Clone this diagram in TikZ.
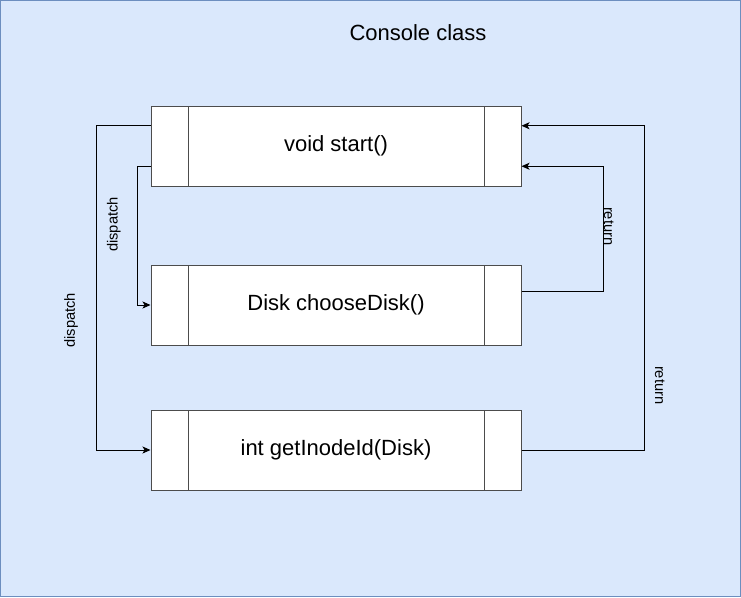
\documentclass[tikz,border=0pt]{standalone}
\usepackage{fontspec}
\setmainfont{Liberation Sans}
\usetikzlibrary{arrows.meta,positioning,calc}

\definecolor{panelfill}{HTML}{DAE8FC}
\definecolor{panelline}{HTML}{6C8EBF}

\begin{document}
\begin{tikzpicture}[x=0.75pt, y=-0.75pt,
  method/.style={rectangle, draw=black!70, fill=white, line width=0.75pt,
    minimum width=277.5pt, minimum height=60pt, inner sep=0pt,
    font=\fontsize{16.5}{20}\selectfont,
    path picture={
      \draw[black!70, line width=0.75pt]
        ([xshift=27.75pt]path picture bounding box.north west) --
        ([xshift=27.75pt]path picture bounding box.south west);
      \draw[black!70, line width=0.75pt]
        ([xshift=-27.75pt]path picture bounding box.north east) --
        ([xshift=-27.75pt]path picture bounding box.south east);
    }},
  link/.style={-{Stealth[length=6pt, width=5.25pt, inset=1.5pt]}, line width=0.75pt},
  tag/.style={font=\fontsize{11}{13}\selectfont, anchor=south}
]

% Panel
\useasboundingbox (0,0) rectangle (741,597);
\draw[fill=panelfill, draw=panelline, line width=1pt] (0.7,0.7) rectangle (740.3,596.3);
\node[font=\fontsize{16.5}{20}\selectfont] (title) at (418,33) {Console class};

% Methods
\node[method] (start)  at (336,146) {void start()};
\node[method] (choose) at (336,305) {Disk chooseDisk()};
\node[method] (inode)  at (336,450) {int getInodeId(Disk)};

% Calls
\draw[link] ($(start.north west)!0.75!(start.south west)$) -- ++(-13.3,0)
  |- node[tag, pos=0.21, rotate=90, inner sep=12pt] {dispatch} (choose.west);
\draw[link] ($(start.north west)!0.25!(start.south west)$) -- ++(-54,0)
  |- node[tag, pos=0.3, rotate=90, inner sep=13.5pt] {dispatch} (inode.west);

% Returns
\draw[link] ($(choose.north east)!0.33!(choose.south east)$) -- ++(82,0)
  |- node[tag, pos=0.26, rotate=-90, inner sep=0pt] {return} ($(start.north east)!0.75!(start.south east)$);
\draw[link] (inode.east) -- ++(123,0)
  |- node[tag, pos=0.1, rotate=-90, inner sep=7.5pt] {return} ($(start.north east)!0.25!(start.south east)$);

\end{tikzpicture}
\end{document}
